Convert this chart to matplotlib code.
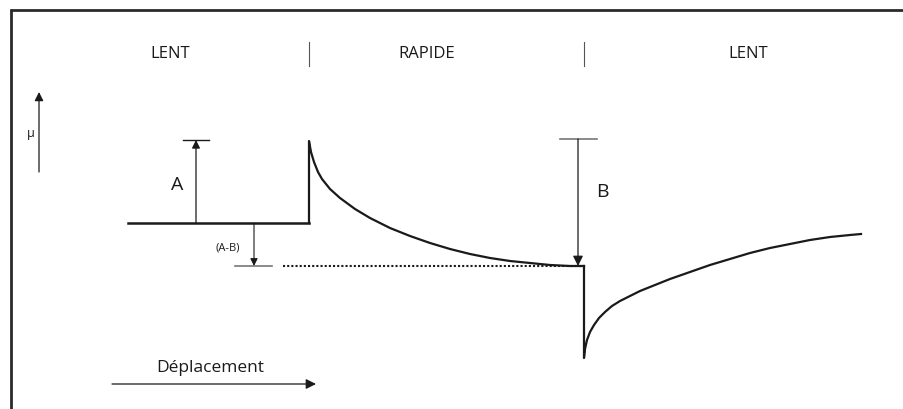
import matplotlib
matplotlib.use("Agg")
import matplotlib.pyplot as plt

# ---- data (diagram coordinates, y grows downward) ----
phase_labels = ["LENT", "RAPIDE", "LENT"]
phase_centers = [170, 427, 748]
phase_bounds = [309, 584]

# slow phase (steady state)
slow_x = [128, 309]
slow_y = [223, 223]

# fast phase: jump then decay
fast_x = [309, 309, 311, 314, 318, 322, 330, 340, 355, 370, 390, 410, 430, 450,
          470, 490, 510, 530, 550, 570, 584]
fast_y = [223, 141, 152, 162, 172, 179, 189, 198, 209, 218, 228, 236, 243, 249,
          254, 258, 261, 263, 265, 266, 266]

# back to slow: drop then recovery
slow2_x = [584, 584, 585, 587, 590, 594, 599, 605, 612, 620, 630, 640, 655, 670,
           690, 710, 730, 750, 770, 790, 810, 830, 850, 861]
slow2_y = [266, 358, 349, 340, 332, 325, 318, 312, 306, 301, 296, 291, 285, 279,
           272, 265, 259, 253, 248, 244, 240, 237, 235, 234]

level_ss = 266  # dotted reference level
A_top = 140
B_top = 139

fig = plt.figure(figsize=(9.04, 4.09), dpi=100)
ax = fig.add_axes([0, 0, 1, 1])
ax.set_xlim(0, 904)
ax.set_ylim(409, 0)
ax.axis("off")

fam = ["Open Sans", "DejaVu Sans"]
dark = "#1a1a1a"

# frame
ax.plot([11, 11], [409, 9], color="#2a2a2a", lw=2.0, solid_capstyle="butt")
ax.plot([10, 904], [9.5, 9.5], color="#2a2a2a", lw=2.0, solid_capstyle="butt")

# phase labels and separators
for lab, cx in zip(phase_labels, phase_centers):
    ax.text(cx, 54, lab, ha="center", va="center", fontsize=12, family=fam, color=dark)
for bx in phase_bounds:
    ax.plot([bx, bx], [42, 66], color="#555555", lw=0.8)

# mu axis arrow
ax.annotate("", xy=(39, 92), xytext=(39, 172),
            arrowprops=dict(arrowstyle="-|>", color=dark, lw=0.9, mutation_scale=13,
                            shrinkA=0, shrinkB=0))
ax.text(31, 133, "μ", ha="center", va="center", fontsize=9, family=fam, color=dark)

# curves
ax.plot(slow_x, slow_y, color=dark, lw=1.8, solid_joinstyle="miter")
ax.plot(fast_x, fast_y, color=dark, lw=1.6, solid_joinstyle="round")
ax.plot(slow2_x, slow2_y, color=dark, lw=1.6, solid_joinstyle="round")
ax.plot([283, 584], [level_ss, level_ss], color=dark, lw=1.5, linestyle=(0, (1, 1)))

# A arrow
ax.plot([183, 209], [A_top, A_top], color=dark, lw=1.0)
ax.annotate("", xy=(196, A_top), xytext=(196, 223),
            arrowprops=dict(arrowstyle="-|>", color=dark, lw=0.9, mutation_scale=12,
                            shrinkA=0, shrinkB=0))
ax.text(177, 185, "A", ha="center", va="center", fontsize=14, family=fam, color=dark)

# (A-B) arrow
ax.plot([235, 272], [level_ss, level_ss], color="#777777", lw=1.2)
ax.annotate("", xy=(254, level_ss), xytext=(254, 223),
            arrowprops=dict(arrowstyle="-|>", color=dark, lw=0.8, mutation_scale=11,
                            shrinkA=0, shrinkB=0))
ax.text(228, 248, "(A-B)", ha="center", va="center", fontsize=8, family=fam, color=dark)

# B arrow
ax.plot([560, 597], [B_top, B_top], color="#777777", lw=1.2)
ax.annotate("", xy=(578, level_ss), xytext=(578, B_top),
            arrowprops=dict(arrowstyle="-|>", color=dark, lw=0.9, mutation_scale=15,
                            shrinkA=0, shrinkB=0))
ax.text(602, 192, "B", ha="center", va="center", fontsize=14, family=fam, color=dark)

# displacement arrow
ax.annotate("", xy=(316, 384), xytext=(112, 384),
            arrowprops=dict(arrowstyle="-|>", color=dark, lw=0.9, mutation_scale=15,
                            shrinkA=0, shrinkB=0))
ax.text(210, 368, "Déplacement", ha="center", va="center", fontsize=12.5, family=fam, color=dark)

fig.savefig("out.png", dpi=100)
